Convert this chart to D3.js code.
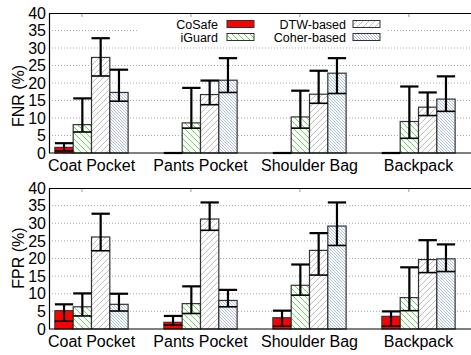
<!DOCTYPE html>
<html>
<head>
<meta charset="utf-8">
<script src="https://cdn.jsdelivr.net/npm/d3@7"></script>
<style>
  body { margin: 0; background: #fff; }
  text { font-family: "Liberation Sans", Arial, sans-serif; fill: #000; }
</style>
</head>
<body>
<div id="chart"></div>
<script>
(function() {
  var width = 471;
  var height = 355;

  var categories = ["Coat Pocket", "Pants Pocket", "Shoulder Bag", "Backpack"];
  var methods = ["CoSafe", "iGuard", "DTW-based", "Coher-based"];
  var yTicks = [0, 5, 10, 15, 20, 25, 30, 35, 40];

  // one row per category, one value per method
  var fnrValue = [[1.6, 8.1, 27.3, 17.3], [0, 8.6, 16.7, 20.8], [0, 10.3, 16.8, 22.8], [0, 9.0, 13.1, 15.4]];
  var fnrLow   = [[0.6, 6.0, 22.0, 14.8], [0, 7.1, 13.8, 17.3], [0, 7.1, 14.2, 17.0], [0, 4.2, 10.7, 11.9]];
  var fnrHigh  = [[2.8, 15.6, 32.8, 23.8], [0, 18.6, 20.7, 27.1], [0, 17.8, 23.5, 27.1], [0, 19.0, 17.3, 21.9]];

  var fprValue = [[5.2, 6.3, 26.1, 7.0], [1.9, 7.2, 31.2, 8.1], [3.2, 12.4, 22.3, 29.2], [3.6, 8.9, 19.7, 19.9]];
  var fprLow   = [[2.2, 3.7, 22.2, 5.1], [1.1, 4.4, 28.0, 6.3], [0.8, 9.6, 15.3, 23.7], [0.8, 5.2, 16.0, 16.3]];
  var fprHigh  = [[7.0, 10.1, 32.7, 10.0], [3.7, 12.1, 35.9, 11.1], [5.2, 18.3, 27.2, 35.9], [5.0, 17.5, 25.2, 24.0]];

  var fills = ["#ff0000", "url(#hatchGreen)", "url(#hatchGray)", "url(#hatchBlue)"];

  var svg = d3.select("#chart")
    .append("svg")
    .attr("width", width)
    .attr("height", height);

  // hatch patterns
  var defs = svg.append("defs");
  function hatch(id, size, color, dir) {
    var p = defs.append("pattern")
      .attr("id", id)
      .attr("patternUnits", "userSpaceOnUse")
      .attr("width", size)
      .attr("height", size);
    p.append("rect").attr("width", size).attr("height", size).attr("fill", "#fff");
    var d = dir > 0
      ? "M0," + size + " L" + size + ",0 M-1,1 L1,-1 M" + (size - 1) + "," + (size + 1) + " L" + (size + 1) + "," + (size - 1)
      : "M0,0 L" + size + "," + size + " M-1," + (size - 1) + " L1," + (size + 1) + " M" + (size - 1) + ",-1 L" + (size + 1) + ",1";
    p.append("path").attr("d", d).attr("stroke", color).attr("stroke-width", 1);
  }
  hatch("hatchGreen", 6, "#66cc55", -1);
  hatch("hatchGray", 6, "#bbbbbb", 1);
  hatch("hatchBlue", 3, "#a9bcd3", -1);

  var left = 49, right = 471;

  var x0 = d3.scaleBand()
    .domain(categories)
    .range([37, 473])
    .paddingInner(0.328)
    .paddingOuter(0.164);

  var x1 = d3.scaleBand()
    .domain(methods)
    .range([0, x0.bandwidth()])
    .padding(0);

  function panel(top, bottom, label, labelY, values, lows, highs, withLegend) {
    var y = d3.scaleLinear().domain([0, 40]).range([bottom, top]);
    var g = svg.append("g");

    // grid
    g.selectAll("line.grid")
      .data(yTicks.filter(function(t) { return t > 0 && t < 40; }))
      .enter()
      .append("line")
      .attr("x1", left).attr("x2", right)
      .attr("y1", function(d) { return y(d); })
      .attr("y2", function(d) { return y(d); })
      .attr("stroke", "#aaa")
      .attr("stroke-width", 1)
      .attr("stroke-dasharray", "1,2");

    // legend background hides grid
    if (withLegend) {
      g.append("rect")
        .attr("x", 137).attr("y", top + 1)
        .attr("width", 251).attr("height", 31)
        .attr("fill", "#fff");
    }

    // y axis
    var yAxis = d3.axisLeft(y).tickValues(yTicks).tickSize(0).tickPadding(3);
    var ya = g.append("g")
      .attr("transform", "translate(" + left + ",0)")
      .call(yAxis);
    ya.select(".domain").remove();
    ya.selectAll("text")
      .attr("font-size", 16)
      .attr("font-family", "Liberation Sans, Arial, sans-serif");

    // x axis labels
    var xAxis = d3.axisBottom(x0).tickSize(0).tickPadding(7);
    var xa = g.append("g")
      .attr("transform", "translate(0," + bottom + ")")
      .call(xAxis);
    xa.select(".domain").remove();
    xa.selectAll("text")
      .attr("font-size", 16)
      .attr("font-family", "Liberation Sans, Arial, sans-serif");

    // mirrored x ticks on the top border
    g.selectAll("line.xtick")
      .data(categories)
      .enter()
      .append("line")
      .attr("x1", function(d) { return x0(d) + 27; })
      .attr("x2", function(d) { return x0(d) + 27; })
      .attr("y1", top).attr("y2", top + 4)
      .attr("stroke", "#999");

    // bars
    var groups = g.selectAll("g.grp")
      .data(categories)
      .enter()
      .append("g")
      .attr("transform", function(d) { return "translate(" + x0(d) + ",0)"; });

    groups.each(function(cat, ci) {
      var rows = methods.map(function(m, mi) {
        return { m: m, mi: mi, v: values[ci][mi], lo: lows[ci][mi], hi: highs[ci][mi] };
      });
      var sel = d3.select(this);
      sel.selectAll("rect")
        .data(rows.filter(function(r) { return r.v > 0; }))
        .enter()
        .append("rect")
        .attr("x", function(r) { return x1(r.m); })
        .attr("width", x1.bandwidth())
        .attr("y", function(r) { return y(r.v); })
        .attr("height", function(r) { return y(0) - y(r.v); })
        .attr("fill", function(r) { return fills[r.mi]; })
        .attr("stroke", "#333")
        .attr("stroke-width", 1.2);

      var eb = sel.selectAll("g.err")
        .data(rows)
        .enter()
        .append("g")
        .attr("stroke", "#000")
        .attr("stroke-width", 2.2);
      eb.append("line")
        .attr("x1", function(r) { return x1(r.m) + x1.bandwidth() / 2; })
        .attr("x2", function(r) { return x1(r.m) + x1.bandwidth() / 2; })
        .attr("y1", function(r) { return y(r.lo); })
        .attr("y2", function(r) { return y(r.hi); });
      eb.append("line")
        .attr("x1", function(r) { return x1(r.m); })
        .attr("x2", function(r) { return x1(r.m) + x1.bandwidth(); })
        .attr("y1", function(r) { return y(r.hi); })
        .attr("y2", function(r) { return y(r.hi); });
      eb.append("line")
        .attr("x1", function(r) { return x1(r.m); })
        .attr("x2", function(r) { return x1(r.m) + x1.bandwidth(); })
        .attr("y1", function(r) { return y(r.lo); })
        .attr("y2", function(r) { return y(r.lo); })
        .attr("stroke-width", 1.6);
    });

    // frame: left, top, bottom
    g.append("path")
      .attr("d", "M" + right + "," + (top + 0.5) + " H" + (left + 0.5) + " V" + bottom + " H" + right)
      .attr("fill", "none")
      .attr("stroke", "#000")
      .attr("stroke-width", 1.2);

    // y label
    g.append("text")
      .attr("transform", "translate(24," + labelY + ") rotate(-90)")
      .attr("text-anchor", "middle")
      .attr("font-size", 16)
      .text(label);

    if (withLegend) {
      var legendPos = [
        { tx: 218, sx: 227, sy: 24 },
        { tx: 218, sx: 227, sy: 37 },
        { tx: 346, sx: 353, sy: 24 },
        { tx: 346, sx: 353, sy: 37 }
      ];
      var lg = g.selectAll("g.leg")
        .data(methods)
        .enter()
        .append("g");
      lg.append("text")
        .attr("x", function(d, i) { return legendPos[i].tx; })
        .attr("y", function(d, i) { return legendPos[i].sy + 4.5; })
        .attr("text-anchor", "end")
        .attr("font-size", 12.5)
        .text(function(d) { return d; });
      lg.append("rect")
        .attr("x", function(d, i) { return legendPos[i].sx; })
        .attr("y", function(d, i) { return legendPos[i].sy - 3.5; })
        .attr("width", 27)
        .attr("height", 7)
        .attr("fill", function(d, i) { return fills[i]; })
        .attr("stroke", "#333")
        .attr("stroke-width", 1);
    }
  }

  panel(13, 153, "FNR (%)", 96, fnrValue, fnrLow, fnrHigh, true);
  panel(188, 329, "FPR (%)", 258, fprValue, fprLow, fprHigh, false);
})();
</script>
</body>
</html>
